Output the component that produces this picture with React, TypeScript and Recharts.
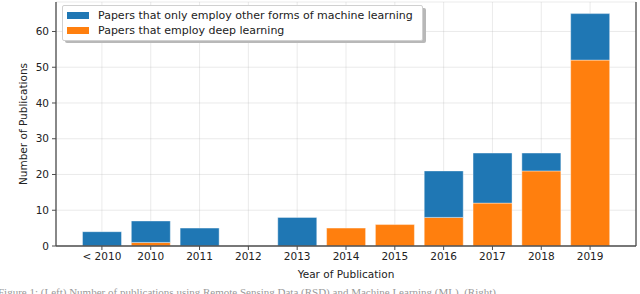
import React from "react";
import {
  BarChart,
  Bar,
  XAxis,
  YAxis,
  CartesianGrid,
  Legend,
  Label,
} from "recharts";

const years = ["< 2010", "2010", "2011", "2012", "2013", "2014", "2015", "2016", "2017", "2018", "2019"];
const deepLearning = [0, 1, 0, 0, 0, 5, 6, 8, 12, 21, 52];
const otherMl = [4, 6, 5, 0, 8, 0, 0, 13, 14, 5, 13];
const yTicks = [0, 10, 20, 30, 40, 50, 60];

const BLUE = "#1f77b4";
const ORANGE = "#ff7f0e";
const FONT = "DejaVu Sans, sans-serif";

const data = years.map((year, i) => ({
  year,
  deep: deepLearning[i],
  other: otherMl[i],
}));

// matplotlib-ish legend box with a drop shadow
const renderLegend = () => (
  <div style={{ position: "relative", width: 364, height: 38 }}>
    <div
      style={{
        position: "absolute",
        left: 3,
        top: 3,
        width: 361,
        height: 35,
        background: "#b8b8b8",
        borderRadius: 2,
      }}
    />
    <div
      style={{
        position: "absolute",
        left: 0,
        top: 0,
        width: 359,
        height: 34,
        background: "#fff",
        border: "1px solid #d0d0d0",
        borderRadius: 2,
        fontFamily: FONT,
        fontSize: 11,
        color: "#222",
      }}
    >
      {[
        { label: "Papers that only employ other forms of machine learning", color: BLUE },
        { label: "Papers that employ deep learning", color: ORANGE },
      ].map((item, i) => (
        <div
          key={item.label}
          style={{ position: "absolute", left: 4, top: 3 + i * 15, display: "flex", alignItems: "center", height: 13 }}
        >
          <span style={{ display: "inline-block", width: 22, height: 7, background: item.color, marginRight: 9 }} />
          <span style={{ whiteSpace: "nowrap" }}>{item.label}</span>
        </div>
      ))}
    </div>
  </div>
);

export default function App() {
  return (
    <div style={{ position: "absolute", left: 0, top: 0, width: 640, height: 294, overflow: "hidden", background: "#fff" }}>
      <BarChart
        width={640}
        height={294}
        data={data}
        margin={{ top: 2, right: 0, left: 0, bottom: 18 }}
        barCategoryGap="10%"
      >
        <XAxis
          dataKey="year"
          padding={{ left: 21.5, right: 21.5 }}
          height={30}
          tickSize={4}
          tickMargin={3}
          axisLine={{ stroke: "#4d4d4d", strokeWidth: 1.3 }}
          tickLine={{ stroke: "#4d4d4d" }}
          tick={{ fill: "#222", fontSize: 10.5, fontFamily: FONT }}
          interval={0}
        >
          <Label
            value="Year of Publication"
            position="insideBottom"
            offset={-2}
            style={{ fill: "#222", fontSize: 10.5, fontFamily: FONT }}
          />
        </XAxis>
        <XAxis
          xAxisId="top"
          dataKey="year"
          orientation="top"
          height={0}
          tick={false}
          tickLine={false}
          axisLine={{ stroke: "#4d4d4d", strokeWidth: 1.3 }}
        />
        <YAxis
          domain={[0, 68.25]}
          ticks={yTicks}
          width={56}
          tickSize={4}
          tickMargin={3}
          allowDataOverflow
          axisLine={{ stroke: "#4d4d4d", strokeWidth: 1.3 }}
          tickLine={{ stroke: "#4d4d4d" }}
          tick={{ fill: "#222", fontSize: 10.5, fontFamily: FONT }}
        >
          <Label
            value="Number of Publications"
            angle={-90}
            position="insideLeft"
            offset={23}
            style={{ fill: "#222", fontSize: 10.5, fontFamily: FONT, textAnchor: "middle" }}
          />
        </YAxis>
        <YAxis
          yAxisId="right"
          orientation="right"
          width={4}
          domain={[0, 68.25]}
          tick={false}
          tickLine={false}
          axisLine={{ stroke: "#4d4d4d", strokeWidth: 1.3 }}
        />
        <Bar
          dataKey="deep"
          stackId="a"
          fill={ORANGE}
          barSize={39}
          stroke="#ffffff"
          strokeOpacity={0.5}
          strokeWidth={0.8}
          isAnimationActive={false}
        />
        <Bar
          dataKey="other"
          stackId="a"
          fill={BLUE}
          barSize={39}
          stroke="#ffffff"
          strokeOpacity={0.5}
          strokeWidth={0.8}
          isAnimationActive={false}
        />
        <CartesianGrid stroke="#b0b0b0" strokeOpacity={0.25} strokeWidth={1} />
        <Legend
          layout="vertical"
          align="center"
          verticalAlign="middle"
          content={renderLegend}
          wrapperStyle={{ position: "absolute", left: 62, top: 5, width: 370 }}
        />
      </BarChart>
      <div
        style={{
          position: "absolute",
          left: -2,
          top: 286,
          whiteSpace: "nowrap",
          fontFamily: "Liberation Serif, serif",
          fontSize: 11,
          lineHeight: "12px",
          color: "#999",
        }}
      >
        Figure 1: (Left) Number of publications using Remote Sensing Data (RSD) and Machine Learning (ML). (Right)
      </div>
    </div>
  );
}
